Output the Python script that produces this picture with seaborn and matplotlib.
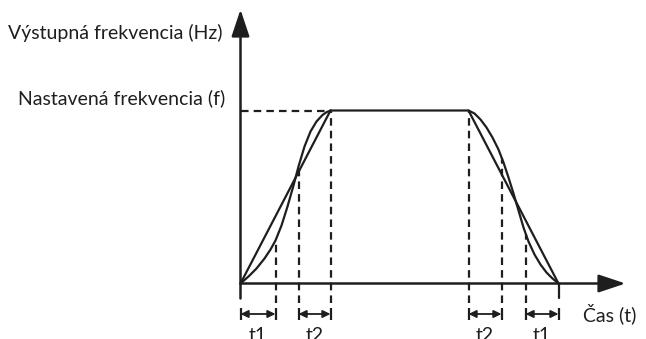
import matplotlib
matplotlib.use("Agg")
import matplotlib.pyplot as plt
import seaborn as sns

# ── Data (time / frequency units, origin at the axes corner) ──
F_SET = 173                                   # nastavená frekvencia
LINEAR_T = [0, 90, 228, 318]                  # linear ramp up, plateau, ramp down
LINEAR_F = [0, 173, 173, 0]

S_ACC_T = [0, 8, 16, 24, 30, 35, 41, 47, 53, 58, 64, 70, 76, 82, 86, 90]
S_ACC_F = [0, 7, 15, 25, 34, 43, 58, 77, 98, 117, 137, 152, 162, 168.5, 171.3, 173]

S_DEC_T = [228, 234, 240, 246, 252, 258, 263, 268, 273, 278, 283, 288, 294, 300, 306, 312, 318]
S_DEC_F = [173, 170, 164, 156, 146, 134, 121, 106, 90, 73, 56, 42, 29, 19, 11, 5, 0]

MARK_T = [35, 58, 90, 228, 261, 285]          # dashed guide lines
MARK_F = [43, 117, 173, 173, 126, 50]         # where they meet the curves

SPAN_START = [0, 58, 228, 285]
SPAN_END = [35, 90, 261, 318]
SPAN_LABELS = ["t1", "t2", "t2", "t1"]

Y_LABEL = "Výstupná frekvencia (Hz)"
F_LABEL = "Nastavená frekvencia (f)"
X_LABEL = "Čas (t)"

# ── Style ─────────────────────────────────────────────────
sns.set_style("white")
plt.rcParams["font.family"] = ["Lato", "DejaVu Sans"]
INK = "#1e1e1e"
LW = 1.6
DASH = (0, (3.4, 2.3))
FS = 14

fig = plt.figure(figsize=(6.46, 3.39), dpi=100)
fig.patch.set_facecolor("white")
ax = fig.add_axes([0, 0, 1, 1])
ax.set_xlim(-240.5, 405.5)
ax.set_ylim(-55.5, 283.5)
ax.axis("off")

# curves
sns.lineplot(x=LINEAR_T, y=LINEAR_F, ax=ax, color=INK, lw=LW, sort=False, estimator=None)
sns.lineplot(x=S_ACC_T, y=S_ACC_F, ax=ax, color=INK, lw=LW, sort=False, estimator=None)
sns.lineplot(x=S_DEC_T, y=S_DEC_F, ax=ax, color=INK, lw=LW, sort=False, estimator=None)
for ln in ax.lines:
    ln.set_solid_joinstyle("round")
    ln.set_solid_capstyle("round")

# dashed guides
ax.plot([0, LINEAR_T[1]], [F_SET, F_SET], color=INK, lw=LW, ls=DASH)
for t, f in zip(MARK_T, MARK_F):
    ax.plot([t, t], [-19, f], color=INK, lw=LW, ls=DASH)
ax.plot([LINEAR_T[-1], LINEAR_T[-1]], [0, -14], color=INK, lw=LW)

# axes with arrows
ax.annotate("", xy=(0, 274), xytext=(0, -15),
            arrowprops=dict(arrowstyle="-|>,head_length=1.65,head_width=0.55",
                            color=INK, lw=1.8, shrinkA=0, shrinkB=0))
ax.annotate("", xy=(385, 0), xytext=(0, 0),
            arrowprops=dict(arrowstyle="-|>,head_length=1.65,head_width=0.55",
                            color=INK, lw=1.8, shrinkA=0, shrinkB=0))

# time spans under the axis
for a, b, lab in zip(SPAN_START, SPAN_END, SPAN_LABELS):
    ax.annotate("", xy=(b, -30.5), xytext=(a, -30.5),
                arrowprops=dict(arrowstyle="<|-|>,head_length=0.45,head_width=0.22",
                                color=INK, lw=1.3, shrinkA=0, shrinkB=0))
    ax.vlines([a, b], -36.5, -24.5, color=INK, lw=1.6)
    ax.text((a + b) / 2, -57.5, lab, ha="center", va="baseline",
            fontsize=FS, color=INK, clip_on=False)

ax.text(-18, 250.5, Y_LABEL, ha="right", va="center", fontsize=FS, color=INK)
ax.text(-15.5, 185.5, F_LABEL, ha="right", va="center", fontsize=FS, color=INK)
ax.text(342.5, -30, X_LABEL, ha="left", va="center", fontsize=FS, color=INK)

plt.savefig("out.png", dpi=100)
plt.close()
